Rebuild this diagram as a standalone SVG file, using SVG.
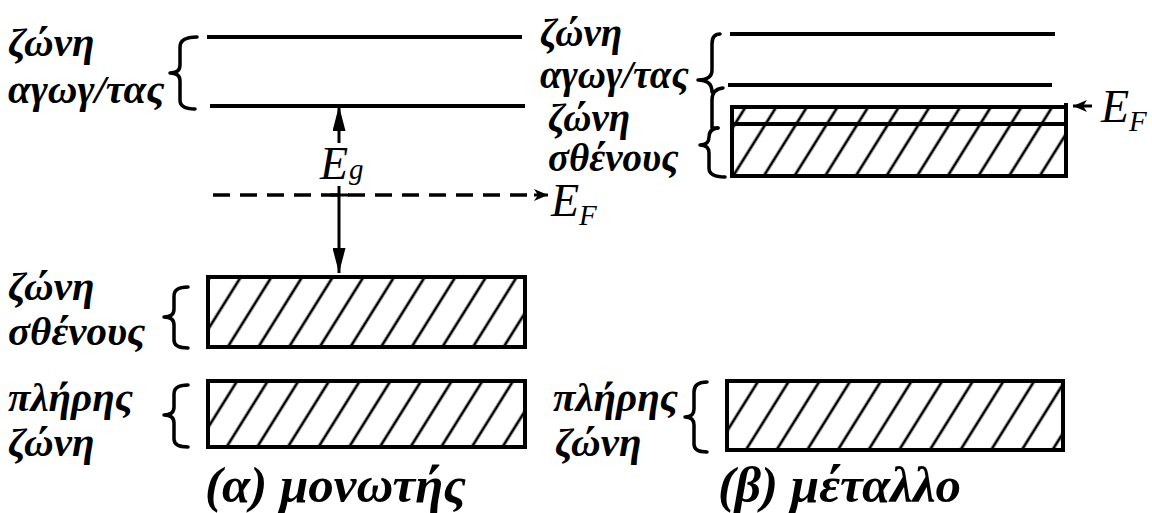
<svg xmlns="http://www.w3.org/2000/svg" width="1152" height="513" viewBox="0 0 1152 513">
<style>
.lbl{font-family:"Liberation Serif","DejaVu Serif",serif;font-style:italic;font-weight:bold;font-size:41px;fill:#000}
.lbr{font-family:"Liberation Serif","DejaVu Serif",serif;font-style:italic;font-weight:bold;font-size:39px;fill:#000}
.cap{font-family:"Liberation Serif","DejaVu Serif",serif;font-style:italic;font-weight:bold;font-size:51px;fill:#000}
.sym{font-family:"Liberation Serif","DejaVu Serif",serif;font-style:italic;font-size:46px;fill:#000}
.sub{font-family:"Liberation Serif","DejaVu Serif",serif;font-style:italic;font-size:29px;fill:#000}
.lvl{stroke:#000;stroke-width:4;fill:none}
.dash{stroke:#000;stroke-width:3.5;fill:none;stroke-dasharray:17 10}
.band{fill:url(#hatch);stroke:#000;stroke-width:4}
.brace{fill:none;stroke:#000;stroke-width:3.5;stroke-linecap:round;stroke-linejoin:round}
.arr{stroke:#000;stroke-width:3;fill:none}
</style>
<defs>
<pattern id="hatch" patternUnits="userSpaceOnUse" width="26" height="26" patternTransform="rotate(32)">
<rect width="26" height="26" fill="#fff"/>
<line x1="13" y1="-2" x2="13" y2="28" stroke="#000" stroke-width="2.7"/>
</pattern>
<marker id="ah" markerUnits="userSpaceOnUse" markerWidth="25" markerHeight="13" viewBox="0 0 25 13" refX="25" refY="6.5" orient="auto">
<path d="M0,0 L25,6.5 L0,13 Z" fill="#000"/>
</marker>
<marker id="sah" markerUnits="userSpaceOnUse" markerWidth="14" markerHeight="12" viewBox="0 0 14 12" refX="14" refY="6" orient="auto">
<path d="M0,0 L14,6 L0,12 L4,6 Z" fill="#000"/>
</marker>
</defs>
<rect width="1152" height="513" fill="#fff"/>

<!-- (a) insulator -->
<g id="a-conduction">
<line class="lvl" x1="207" y1="37" x2="522" y2="37"/>
<line class="lvl" x1="210" y1="106" x2="525" y2="106"/>
<path class="brace" d="M197,37 Q180,37 180,47 L180,65 Q180,73 170,73 Q180,73 180,81 L180,100 Q180,109 195,109"/>
<text class="lbl" x="8" y="56">ζώνη</text>
<text class="lbl" x="8" y="103">αγωγ/τας</text>
</g>
<g id="a-fermi">
<line class="dash" x1="213" y1="195" x2="534" y2="195"/>
<text class="sym" x="551" y="216">E</text>
<text class="sub" x="579" y="225">F</text>
</g>
<g id="a-valence">
<rect class="band" x="208" y="277" width="317" height="70"/>
<path class="brace" d="M188,287 Q174,287 174,296 L174,309 Q174,317 164,317 Q174,317 174,325 L174,340 Q174,348 188,348"/>
<text class="lbl" x="8" y="300">ζώνη</text>
<text class="lbl" x="8" y="345">σθένους</text>
</g>
<g id="a-full">
<rect class="band" x="208" y="381" width="317" height="66"/>
<path class="brace" d="M188,385 Q174,385 174,394 L174,407 Q174,415 164,415 Q174,415 174,423 L174,439 Q174,447 188,447"/>
<text class="lbl" x="8" y="411">πλήρης</text>
<text class="lbl" x="8" y="456">ζώνη</text>
</g>
<g id="a-gap">
<text class="sym" x="320" y="179">E</text>
<text class="sub" x="349" y="179">g</text>
</g>
<text class="cap" x="205" y="502">(α) μονωτής</text>

<!-- (b) metal -->
<g id="b-conduction">
<line class="lvl" x1="730" y1="34" x2="1055" y2="34"/>
<line class="lvl" x1="728" y1="85" x2="1052" y2="85"/>
<path class="brace" d="M720,34 Q712,34 712,44 L712,70 Q712,80 698,80 Q712,80 712,92"/>
<path class="brace" d="M723,88 Q712,89 712,100 L712,128 L718,128"/>
<text class="lbr" x="540" y="46">ζώνη</text>
<text class="lbr" x="540" y="88">αγωγ/τας</text>
</g>
<g id="b-valence">
<rect class="band" x="732" y="107" width="334" height="69" stroke="none"/>
<line class="dash" x1="732" y1="107" x2="1066" y2="107"/>
<line class="lvl" x1="732" y1="124" x2="1066" y2="124"/>
<line class="lvl" x1="732" y1="176" x2="1066" y2="176"/>
<line class="lvl" x1="732" y1="105" x2="732" y2="178"/>
<line class="lvl" x1="1066" y1="103" x2="1066" y2="178"/>
<path class="brace" d="M718,128 Q709,129 709,137 Q709,145 700,145 Q709,145 709,153 L709,168 Q709,177 725,177"/>
<text class="lbr" x="548" y="131">ζώνη</text>
<text class="lbr" x="548" y="171">σθένους</text>
</g>
<g id="b-fermi">
<text class="sym" x="1101" y="122">E</text>
<text class="sub" x="1129" y="131">F</text>
</g>
<g id="b-full">
<rect class="band" x="727" y="381" width="336" height="69"/>
<path class="brace" d="M707,382 Q694,382 694,392 L694,409 Q694,417 685,417 Q694,417 694,425 L694,444 Q694,452 707,452"/>
<text class="lbl" x="553" y="411">πλήρης</text>
<text class="lbl" x="555" y="456">ζώνη</text>
</g>
<text class="cap" x="718" y="502">(β) μέταλλο</text>

<g id="connectors">
<line class="arr" x1="339" y1="143" x2="339" y2="106" marker-end="url(#ah)"/>
<line class="arr" x1="339" y1="186" x2="339" y2="273" marker-end="url(#ah)"/>
<line class="arr" x1="330" y1="195" x2="349" y2="195"/>
<line class="arr" x1="534" y1="195" x2="548" y2="195" marker-end="url(#sah)"/>
<line class="arr" x1="1092" y1="106" x2="1073" y2="106" marker-end="url(#sah)"/>
</g>
</svg>
